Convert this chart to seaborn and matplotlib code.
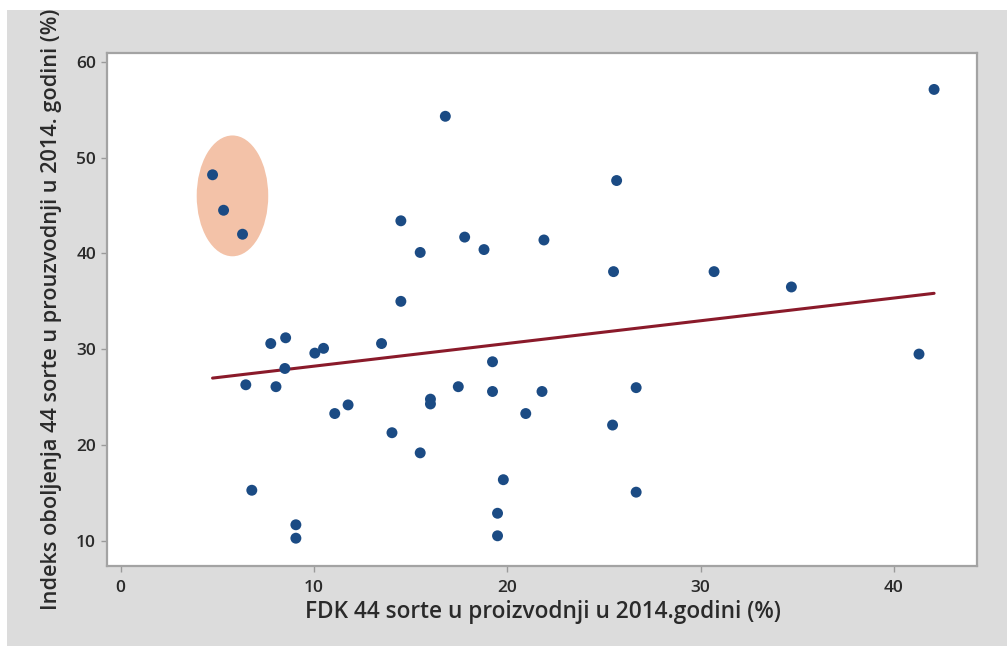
import matplotlib
matplotlib.use('Agg')
import matplotlib.pyplot as plt
from matplotlib.patches import Ellipse, Rectangle
import seaborn as sns
import pandas as pd

# FDK (%) and disease index (%) for the 44 varieties
fdk = [4.76, 5.33, 6.31, 16.8, 14.5, 15.5, 17.8, 18.8, 21.9, 14.5,
       42.08, 25.66, 25.5, 30.7, 34.7, 41.3, 26.67, 25.45, 26.67,
       7.77, 8.54, 10.05, 10.5, 13.5, 8.5, 6.48, 8.04, 19.24, 19.24,
       17.47, 21.8, 11.08, 11.77, 16.03, 16.03, 20.96, 14.04, 15.5,
       19.8, 6.79, 9.07, 9.07, 19.5, 19.5]
indeks = [48.2, 44.5, 42.0, 54.3, 43.4, 40.1, 41.7, 40.4, 41.4, 35.0,
          57.1, 47.6, 38.1, 38.1, 36.5, 29.5, 26.0, 22.1, 15.1,
          30.6, 31.2, 29.6, 30.1, 30.6, 28.0, 26.3, 26.1, 28.7, 25.6,
          26.1, 25.6, 23.3, 24.2, 24.8, 24.3, 23.3, 21.3, 19.2,
          16.4, 15.3, 11.7, 10.3, 12.9, 10.55]

x_ticks = [0, 10, 20, 30, 40]
y_ticks = [10, 20, 30, 40, 50, 60]

# highlighted group (top-left)
ell_center = (5.79, 46.0)
ell_size = (3.7, 12.6)

df = pd.DataFrame({'fdk': fdk, 'indeks': indeks})

sns.set_theme(style="white")
plt.rcParams['font.family'] = ['Open Sans', 'DejaVu Sans']

text_col = '#2a2a2a'
fig = plt.figure(figsize=(10.07, 6.46), dpi=100, facecolor='white')
# grey panel behind the plot (white strip at top and left like the source)
bg = Rectangle((7 / 1007, 0), 1, 1 - 10 / 646, transform=fig.transFigure,
               facecolor='#dcdcdc', edgecolor='none', zorder=-10)
fig.patches.append(bg)

ax = fig.add_axes([107 / 1007, 1 - 566 / 646, (977 - 107) / 1007, (566 - 53) / 646])
ax.set_zorder(5)
ax.set_facecolor('white')

ax.add_patch(Ellipse(ell_center, ell_size[0], ell_size[1], facecolor='#f3c2a8',
                     edgecolor='none', zorder=1))

sns.regplot(data=df, x='fdk', y='indeks', ax=ax, ci=None, truncate=True,
            scatter_kws=dict(s=62, color='#1b4b84', edgecolor='none', zorder=3, alpha=1),
            line_kws=dict(color='#8a1a2a', lw=2.2, zorder=2))

ax.set_xlim(-0.7, 44.3)
ax.set_ylim(7.4, 60.9)
ax.set_xticks(x_ticks)
ax.set_yticks(y_ticks)
ax.tick_params(axis='both', bottom=True, left=True, direction='out', length=4, width=1,
               color='#9a9a9a', labelsize=12.5, labelcolor=text_col)
ax.tick_params(axis='x', pad=6)
ax.tick_params(axis='y', pad=4)
for lab in ax.get_xticklabels() + ax.get_yticklabels():
    lab.set_fontweight('semibold')
for s in ax.spines.values():
    s.set_color('#a3a3a3')
    s.set_linewidth(1.6)

ax.set_xlabel("FDK 44 sorte u proizvodnji u 2014.godini (%)", fontsize=16.3,
              color=text_col, fontweight='semibold')
ax.set_ylabel("Indeks oboljenja 44 sorte u prouzvodnji u 2014. godini (%)", fontsize=15.7,
              color=text_col, fontweight='semibold')
ax.xaxis.set_label_coords(0.5006, -0.067)
ax.yaxis.set_label_coords(-0.052, 0.5)

fig.savefig('out.png', dpi=100, facecolor=fig.get_facecolor())
